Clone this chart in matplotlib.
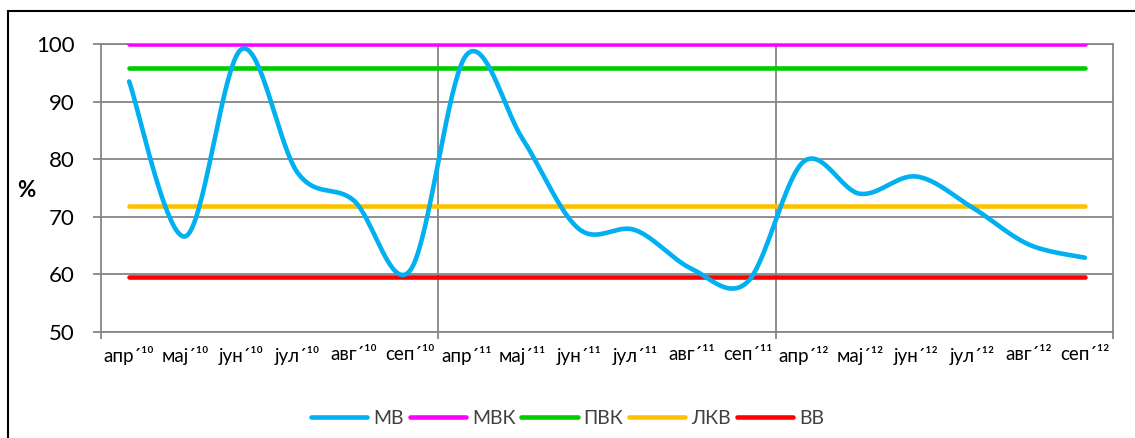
import numpy as np
import matplotlib
matplotlib.use("Agg")
import matplotlib.pyplot as plt
from matplotlib.patches import Rectangle
from matplotlib.lines import Line2D

plt.rcParams['font.family'] = ['Lato', 'Noto Sans', 'DejaVu Sans']

# Months (Serbian Cyrillic) and years
months = ["апр", "мај", "јун", "јул", "авг", "сеп"]
years = ["¹⁰", "¹¹", "¹²"]
tick_labels = [f"{m}´{y}" for y in years for m in months]

# Measured series (%)
mv = [93.5, 66.6, 99.1, 77.6, 72.8, 60.7,
      98.1, 83.5, 67.9, 67.7, 61.0, 58.7,
      79.6, 74.0, 77.0, 71.6, 65.2, 62.9]

# Reference levels (%)
mvk = 100.0
pvk = 95.8
lkv = 71.9
vv = 59.6

series_names = ["МВ", "МВК", "ПВК", "ЛКВ", "ВВ"]
colors = ["#00B0F0", "#FF00FF", "#00CC00", "#FFC000", "#FF0000"]


def smooth(xs, ys, n=40):
    """Bezier smoothing through every point (Catmull-Rom style control points)."""
    P = np.column_stack([xs, ys]).astype(float)
    m = len(P)
    out = []
    for i in range(m - 1):
        p0 = P[max(i - 1, 0)]
        p1 = P[i]
        p2 = P[i + 1]
        p3 = P[min(i + 2, m - 1)]
        c1 = p1 + (p2 - p0) / 6.0
        c2 = p2 - (p3 - p1) / 6.0
        t = np.linspace(0, 1, n)[:, None]
        seg = ((1 - t) ** 3) * p1 + 3 * ((1 - t) ** 2) * t * c1 + 3 * (1 - t) * t ** 2 * c2 + t ** 3 * p2
        out.append(seg if i == 0 else seg[1:])
    seg = np.vstack(out)
    return seg[:, 0], seg[:, 1]


W, H = 1135, 438
fig = plt.figure(figsize=(W / 100, H / 100), dpi=100)

# outer chart border (extends past right and bottom edges)
fig.patches.append(Rectangle((8 / W, -0.1), 1.2, 1 - 11 / H + 0.1,
                             transform=fig.transFigure, fill=False,
                             edgecolor="black", linewidth=1.5))

left, right, top, bottom = 101, 1113, 44, 332
ax = fig.add_axes([left / W, 1 - bottom / H, (right - left) / W, (bottom - top) / H])

grid_c = "#868686"
x = np.arange(len(mv))
lw = 3.3

for val, c in zip([vv, lkv, pvk, mvk], [colors[4], colors[3], colors[2], colors[1]]):
    ax.plot([x[0], x[-1]], [val, val], color=c, lw=lw, solid_capstyle="round", zorder=3)

sx, sy = smooth(x, mv)
ax.plot(sx, sy, color=colors[0], lw=lw, solid_capstyle="round", zorder=4)

ax.set_xlim(-0.5, len(mv) - 0.5)
ax.set_ylim(50, 100)
ax.set_yticks(np.arange(50, 101, 10))
ax.yaxis.grid(True, color=grid_c, lw=1.3)
for xb in [5.5, 11.5]:
    ax.axvline(xb, color=grid_c, lw=1.3, zorder=1)
ax.set_axisbelow(True)

for s in ax.spines.values():
    s.set_color(grid_c)
    s.set_linewidth(1.3)

ax.set_xticks(x)
ax.set_xticklabels(tick_labels, fontsize=13.5)
ax.tick_params(axis="x", length=0, pad=10)
ax.set_xticks([-0.5, 5.5, 11.5, 17.5], minor=True)
ax.tick_params(axis="x", which="minor", length=5, width=1.3, color=grid_c, direction="out")
ax.tick_params(axis="y", length=6, width=1.3, color=grid_c, direction="out", pad=13, labelsize=16)

ax.set_ylabel("%", rotation=0, fontsize=16, fontweight="bold", va="center", ha="center")
ax.yaxis.set_label_coords(-0.074, 0.49)

handles = [Line2D([0], [0], color=c, lw=lw, solid_capstyle="round") for c in colors]
fig.legend(handles, series_names, loc="center", bbox_to_anchor=(0.5, 1 - 418 / H),
           ncol=5, frameon=False, fontsize=14, handlelength=2.9, handletextpad=0.3,
           columnspacing=0.3, labelcolor="#404040")

fig.savefig("out.png", dpi=100)
